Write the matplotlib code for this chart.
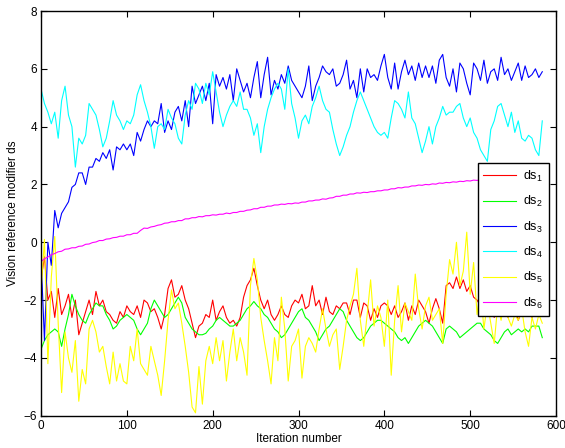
import numpy as np
import matplotlib
matplotlib.use("Agg")
import matplotlib.pyplot as plt

plt.rcParams['font.family'] = ['Liberation Sans', 'DejaVu Sans']
plt.rcParams['mathtext.fontset'] = 'custom'
plt.rcParams['mathtext.rm'] = 'Liberation Sans'
plt.rcParams['mathtext.it'] = 'Liberation Sans'

iterations = np.arange(0, 585, 4)

ds1 = [-1.3, -0.5, -2.0, -1.7, -2.6, -1.6, -2.5, -2.2, -1.8, -2.6,
       -2.0, -3.2, -2.8, -2.4, -2.0, -2.5, -1.7, -2.2, -2.0, -2.4,
       -2.5, -2.7, -2.8, -2.4, -2.6, -2.2, -2.4, -2.5, -2.2, -2.6,
       -2.0, -2.1, -2.4, -2.3, -2.6, -3.0, -2.5, -1.6, -1.3, -1.9,
       -1.8, -1.5, -2.0, -2.3, -2.8, -3.3, -2.9, -2.8, -2.5, -2.6,
       -2.0, -2.7, -2.4, -2.2, -2.6, -2.8, -2.7, -2.9, -2.6, -1.9,
       -1.5, -1.3, -0.9, -1.5, -2.0, -2.3, -2.0, -2.5, -2.7, -2.5,
       -2.2, -2.5, -2.6, -2.2, -2.0, -2.1, -1.8, -2.3, -2.2, -1.5,
       -2.2, -2.0, -2.5, -1.9, -2.4, -2.5, -2.2, -2.3, -2.1, -2.1,
       -2.5, -2.0, -2.0, -2.6, -2.1, -2.2, -2.7, -2.3, -2.6, -2.2,
       -2.1, -2.2, -2.5, -2.2, -2.6, -2.4, -2.1, -2.7, -2.2, -2.5,
       -2.0, -2.2, -2.4, -2.8, -2.3, -1.95, -2.3, -2.8, -1.5, -1.4,
       -1.6, -1.2, -1.6, -1.3, -1.7, -1.5, -1.9, -2.0, -2.2, -2.3,
       -2.5, -2.2, -2.6, -2.3, -2.5, -2.2, -2.6, -2.4, -2.3, -2.7,
       -2.4, -2.5, -2.2, -2.6, -2.4, -2.3, -2.5]

ds2 = [-3.7, -3.4, -3.2, -3.1, -3.0, -3.1, -3.6, -3.0, -2.5, -1.8,
       -2.2, -2.5, -2.7, -2.8, -2.5, -2.3, -2.1, -2.2, -2.2, -2.5,
       -2.7, -3.0, -2.9, -2.7, -2.6, -2.5, -2.6, -2.7, -3.0, -3.2,
       -3.0, -2.8, -2.3, -2.0, -2.2, -2.4, -2.6, -2.5, -2.3, -2.1,
       -1.9, -2.1, -2.6, -2.8, -3.0, -3.1, -3.2, -3.2, -3.15, -3.0,
       -2.9, -2.7, -2.6, -2.7, -2.8, -2.9, -2.9, -2.8, -2.7, -2.5,
       -2.3, -2.2, -2.05, -2.2, -2.3, -2.5, -2.6, -2.8, -3.0, -3.1,
       -3.3, -3.2, -3.0, -2.8, -2.6, -2.4, -2.3, -2.6, -2.7, -2.9,
       -3.1, -3.4, -3.2, -3.0, -2.9, -2.7, -2.5, -2.3, -2.4, -2.7,
       -2.9, -3.1, -3.3, -3.4, -3.3, -3.1, -2.9, -2.8, -2.7, -2.7,
       -2.8, -2.9, -3.0, -3.1, -3.3, -3.4, -3.3, -3.5, -3.3, -3.1,
       -2.9, -2.8, -2.7, -2.8, -2.9, -3.1, -3.3, -3.5, -3.0, -2.9,
       -3.0, -3.1, -3.3, -3.2, -3.1, -3.0, -2.9, -2.8, -2.8, -3.0,
       -3.1, -3.2, -3.4, -3.5, -3.3, -3.1, -3.0, -3.2, -3.1, -3.0,
       -3.1, -3.0, -3.1, -2.9, -2.9, -2.9, -3.3]

ds3 = [-0.5, -3.4, 0.0, -0.8, 1.1, 0.5, 1.0, 1.2, 1.4, 1.9,
       2.0, 2.4, 2.4, 2.0, 2.6, 2.6, 2.9, 2.8, 3.1, 2.9,
       3.2, 2.5, 3.3, 3.2, 3.4, 3.2, 3.4, 3.0, 3.8, 3.5,
       3.9, 4.2, 4.0, 4.2, 4.1, 4.8, 3.8, 4.2, 3.9, 4.5,
       4.7, 4.2, 4.9, 4.0, 5.4, 4.8, 5.1, 5.4, 4.9, 5.5,
       4.1, 5.8, 5.4, 5.7, 5.3, 5.8, 4.9, 6.0, 5.6, 5.2,
       5.5, 5.0, 5.7, 6.25, 5.0, 5.8, 6.4, 5.1, 5.6, 5.3,
       5.8, 5.5, 6.1, 5.6, 5.4, 5.2, 5.0, 5.4, 6.1, 4.9,
       5.4, 5.7, 6.1, 5.9, 5.8, 6.0, 5.4, 5.5, 5.8, 6.3,
       5.3, 5.6, 5.0, 6.0, 5.2, 6.0, 5.7, 5.8, 5.6, 6.1,
       6.5, 5.7, 5.3, 6.2, 5.3, 5.9, 6.3, 5.8, 6.1, 5.6,
       6.2, 5.7, 6.1, 5.7, 6.1, 5.5, 6.3, 6.5, 5.7, 5.4,
       6.0, 5.2, 6.2, 6.0, 5.5, 5.1, 6.2, 6.0, 5.6, 6.3,
       5.5, 5.9, 6.0, 5.6, 6.4, 5.8, 6.0, 5.6, 5.9, 6.2,
       5.6, 6.1, 5.7, 5.8, 6.0, 5.7, 5.9]

ds4 = [5.3, 4.8, 4.5, 4.1, 4.5, 3.6, 4.9, 5.4, 4.4, 4.0,
       2.6, 3.6, 3.4, 3.7, 4.8, 4.6, 4.4, 3.9, 3.3, 3.6,
       4.2, 4.9, 4.4, 4.2, 3.9, 4.2, 4.1, 4.4, 5.1, 5.45,
       4.9, 4.5, 4.0, 3.25, 4.0, 4.1, 3.9, 4.6, 4.3, 4.1,
       3.6, 3.4, 4.4, 4.9, 4.6, 5.5, 5.3, 4.8, 5.5, 5.1,
       5.9, 5.2, 4.5, 4.0, 4.4, 4.7, 4.9, 4.7, 5.2, 4.6,
       4.6, 4.3, 3.7, 4.1, 3.1, 4.0, 4.6, 5.0, 5.3, 5.5,
       5.3, 4.6, 6.0, 4.8, 4.3, 3.6, 4.2, 4.4, 4.1, 4.7,
       5.0, 5.4, 4.9, 4.6, 4.5, 3.9, 3.4, 3.0, 3.3, 3.7,
       4.0, 4.5, 4.9, 5.2, 4.9, 4.6, 4.3, 4.0, 3.8, 3.7,
       3.8, 3.6, 4.3, 4.9, 4.8, 4.6, 4.3, 5.2, 4.3, 4.1,
       3.6, 3.1, 3.5, 4.0, 3.4, 4.0, 4.3, 4.7, 4.4, 4.5,
       4.5, 4.7, 4.8, 4.3, 4.0, 4.3, 3.8, 3.6, 3.2, 3.0,
       2.8, 3.9, 4.2, 4.7, 4.8, 4.4, 4.0, 4.5, 3.8, 4.2,
       3.6, 3.5, 3.7, 3.6, 3.2, 3.0, 4.2]

ds5 = [-1.7, 0.1, -4.2, -1.2, 0.2, -2.8, -5.2, -3.1, -4.0, -4.5,
       -3.4, -5.5, -4.4, -4.9, -3.0, -2.7, -3.1, -3.8, -3.6, -4.3,
       -4.9, -3.8, -4.8, -4.2, -4.8, -4.9, -3.6, -4.1, -3.0, -4.2,
       -4.4, -4.6, -3.6, -4.1, -4.6, -5.3, -4.1, -2.7, -1.65, -2.3,
       -2.1, -2.8, -3.6, -4.5, -5.7, -5.9, -4.3, -5.6, -4.1, -3.6,
       -4.2, -3.3, -4.1, -3.4, -4.8, -3.8, -3.0, -4.1, -3.3, -3.8,
       -4.6, -1.5, -0.56, -1.3, -2.6, -3.4, -4.1, -4.9, -3.3, -4.1,
       -1.9, -3.0, -4.8, -3.6, -3.4, -3.0, -4.7, -3.6, -3.3, -3.5,
       -3.8, -3.0, -2.3, -3.0, -3.6, -3.2, -3.0, -4.4, -3.6, -2.7,
       -2.2, -1.8, -0.9, -2.7, -3.6, -2.5, -1.3, -2.9, -2.2, -2.6,
       -3.6, -2.0, -4.6, -2.7, -1.5, -3.1, -2.1, -2.4, -2.7, -1.1,
       -2.3, -3.0, -2.2, -1.9, -2.7, -2.5, -2.3, -3.5, -1.8, -0.6,
       -1.1, 0.0, -1.5, -1.0, 0.35, -1.8, -0.7, -2.5, -1.65, -3.0,
       -2.1, -2.8, -3.5, -2.2, -2.7, -2.0, -2.6, -2.9, -2.5, -2.7,
       -2.3, -3.1, -3.6, -2.6, -3.0, -2.5, -2.8]

ds6 = [-0.67, -0.57, -0.51, -0.43, -0.39, -0.33, -0.31, -0.24, -0.23, -0.19,
       -0.19, -0.14, -0.13, -0.07, -0.06, -0.01, 0.01, 0.06, 0.06, 0.11,
       0.12, 0.16, 0.17, 0.21, 0.21, 0.26, 0.26, 0.31, 0.31, 0.41,
       0.49, 0.48, 0.53, 0.55, 0.59, 0.61, 0.66, 0.67, 0.71, 0.71,
       0.75, 0.75, 0.81, 0.81, 0.85, 0.85, 0.89, 0.88, 0.92, 0.92,
       0.95, 0.94, 0.97, 0.97, 1.01, 0.99, 1.03, 1.03, 1.07, 1.07,
       1.11, 1.12, 1.16, 1.16, 1.21, 1.21, 1.25, 1.25, 1.29, 1.29,
       1.32, 1.31, 1.34, 1.33, 1.36, 1.35, 1.39, 1.39, 1.43, 1.43,
       1.46, 1.46, 1.50, 1.49, 1.53, 1.54, 1.59, 1.59, 1.63, 1.63,
       1.67, 1.67, 1.71, 1.70, 1.73, 1.72, 1.75, 1.75, 1.78, 1.78,
       1.81, 1.81, 1.85, 1.85, 1.89, 1.88, 1.91, 1.91, 1.95, 1.95,
       1.98, 1.97, 2.00, 1.99, 2.02, 2.01, 2.05, 2.04, 2.07, 2.06,
       2.09, 2.08, 2.11, 2.10, 2.13, 2.12, 2.15, 2.14, 2.17, 2.16,
       2.19, 2.18, 2.21, 2.20, 2.23, 2.22, 2.25, 2.24, 2.26, 2.25,
       2.28, 2.27, 2.29, 2.28, 2.31, 2.30, 2.31]

series = [ds1, ds2, ds3, ds4, ds5, ds6]
labels = ['ds$_1$', 'ds$_2$', 'ds$_3$', 'ds$_4$', 'ds$_5$', 'ds$_6$']
colors = ['#ff0000', '#00ff00', '#0000ff', '#00ffff', '#ffff00', '#ff00ff']

x_ticks = [0, 100, 200, 300, 400, 500, 600]
y_ticks = [-6, -4, -2, 0, 2, 4, 6, 8]

fig = plt.figure(figsize=(5.65, 4.48), dpi=100)
ax = fig.add_axes([0.0726, 0.0721, 0.9115, 0.9033])

for s, lab, c in zip(series, labels, colors):
    ax.plot(iterations, s, color=c, lw=0.8, label=lab)

ax.set_xlim(0, 600)
ax.set_ylim(-6, 8)
ax.set_xticks(x_ticks)
ax.set_yticks(y_ticks)
ax.tick_params(direction='in', length=4, width=0.8, top=True, right=True,
               labelsize=8.5, pad=3)
for sp in ax.spines.values():
    sp.set_linewidth(1.0)

ax.set_xlabel('Iteration number', fontsize=8.5, labelpad=1)
ax.set_ylabel('Vision reference modifier ds', fontsize=8.5, labelpad=3)

leg = ax.legend(loc='upper right', bbox_to_anchor=(0.986, 0.624),
                borderaxespad=0.0,
                fancybox=False, edgecolor='black', framealpha=1,
                fontsize=9, handlelength=2.6, labelspacing=0.82,
                borderpad=0.45, handletextpad=0.6)
leg.get_frame().set_linewidth(1.0)

fig.savefig('out.png', dpi=100)
